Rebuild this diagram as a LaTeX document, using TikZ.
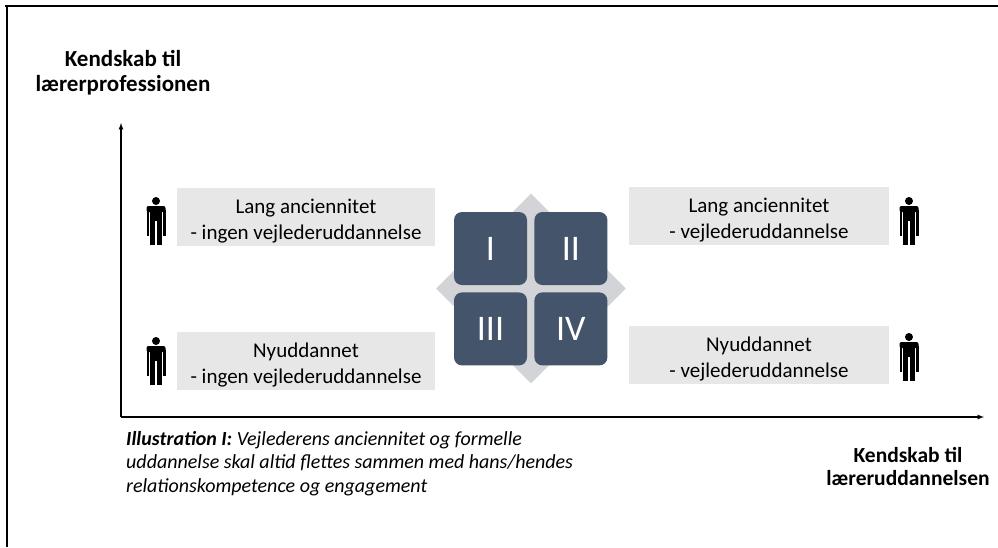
\documentclass[tikz,border=0pt]{standalone}
\usepackage{fontspec}
\setmainfont{Carlito}
\usetikzlibrary{positioning,shapes.geometric}
\definecolor{boxgray}{HTML}{E7E7E7}
\definecolor{diagray}{HTML}{D2D4D8}
\definecolor{slate}{HTML}{44546A}
\tikzset{
	box/.style={fill=boxgray, minimum height=58pt, inner sep=0pt, label={[boxtext]center:{#1}}},
	boxtext/.style={align=center, yshift=-4pt, font=\fontsize{21}{25.5}\selectfont},
	quad/.style={fill=slate, rounded corners=8pt, minimum size=73pt, inner sep=0pt,
		text=white, font=\fontsize{36}{36}\selectfont},
	axislabel/.style={align=center, font=\bfseries\fontsize{23}{25}\selectfont},
	axis/.style={line width=1.2pt, -latex},
	person/.pic={
		\fill (0,0) circle[radius=4];
		\fill[rounded corners=2pt] (-9.5,5) rectangle (9.5,11);
		\fill (-9.5,9) rectangle (-7,35);
		\fill (7,9) rectangle (9.5,35);
		\fill (-6,9) rectangle (6,20);
		\fill (-6,18) rectangle (-0.7,44);
		\fill (0.7,18) rectangle (6,44);
	},
}
\begin{document}
\begin{tikzpicture}[x=1pt, y=-1pt]
	\useasboundingbox (0,0) rectangle (998,547);

	% frame
	\draw[line width=1.5pt] (7,547) -- (7,6) -- (998,6);
	\draw[line width=2.5pt] (5,6) -- (20,6);

	% axes
	\coordinate (origin) at (121,417);
	\coordinate (ytip) at (121,123);
	\coordinate (xtip) at (984,417);
	\draw[axis] (origin) -- (ytip);
	\draw[axis] (origin) -- (xtip);

	\node[axislabel] (ylab) at (123,73) {Kendskab til\\lærerprofessionen};
	\node[axislabel, font=\bfseries\fontsize{21.5}{23}\selectfont] (xlab) at (908,467) {Kendskab til\\læreruddannelsen};

	% centre
	\node[diamond, fill=diagray, minimum width=190pt, minimum height=190pt, inner sep=0pt] (dia) at (531,288.5) {};
	\node[quad] (q1) at (490.5,248.5) {I};
	\node[quad, right=7pt of q1] (q2) {II};
	\node[quad, below=7pt of q1] (q3) {III};
	\node[quad, right=7pt of q3] (q4) {IV};

	% boxes
	\node[box={Lang anciennitet\\- ingen vejlederuddannelse}, minimum width=258pt] (lt) at (306,217) {};
	\node[box={Nyuddannet\\- ingen vejlederuddannelse}, minimum width=258pt] (lb) at (306,361) {};
	\node[box={Lang anciennitet\\- vejlederuddannelse}, minimum width=260pt] (rt) at (759,216) {};
	\node[box={Nyuddannet\\- vejlederuddannelse}, minimum width=260pt] (rb) at (759,355) {};

	% persons
	\pic at (156,201) {person};
	\pic at (156,341) {person};
	\pic at (909,201) {person};
	\pic at (909,337) {person};

	% caption
	\node[anchor=north west, align=left, inner sep=0pt, font=\itshape\fontsize{20}{23.5}\selectfont] (cap) at (126,431)
		{\textbf{Illustration I:} Vejlederens anciennitet og formelle\\
		uddannelse skal altid flettes sammen med hans/hendes\\
		relationskompetence og engagement};
\end{tikzpicture}
\end{document}
